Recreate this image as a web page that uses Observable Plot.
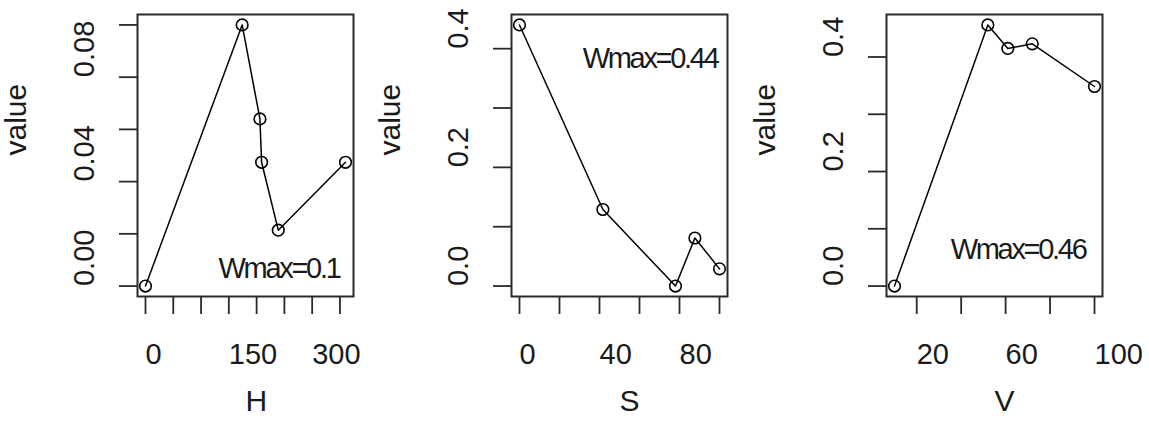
<!DOCTYPE html>
<html>
<head>
<meta charset="utf-8">
<script src="https://cdn.jsdelivr.net/npm/d3@7"></script>
<script src="https://cdn.jsdelivr.net/npm/@observablehq/plot@0.6"></script>
<style>
  html, body { margin: 0; padding: 0; background: #fff; }
  #charts { display: flex; flex-direction: row; width: 1149px; height: 430px; overflow: hidden; }
  #charts svg { display: block; overflow: visible; font-family: "Liberation Sans", Arial, sans-serif; }
  .wmax text { letter-spacing: -2.3px; }
</style>
</head>
<body>
<div id="charts"></div>
<script>
// ---- data ----
const hX = [0, 174, 206, 209, 239, 360];
const hY = [0, 0.1, 0.064, 0.0474, 0.0214, 0.0474];
const sX = [0, 41.7, 78, 87.7, 100];
const sY = [0.44, 0.129, 0, 0.081, 0.029];
const vX = [10, 52, 61, 72, 100];
const vY = [0, 0.456, 0.415, 0.423, 0.3485];

const hXTicks = [0, 50, 100, 150, 200, 250, 300, 350];
const hXLabels = [0, 150, 300];
const hYTicks = [0, 0.02, 0.04, 0.06, 0.08, 0.1];
const hYLabels = [0, 0.04, 0.08];

const sXTicks = [0, 20, 40, 60, 80, 100];
const sXLabels = [0, 40, 80];
const sYTicks = [0, 0.1, 0.2, 0.3, 0.4];
const sYLabels = [0, 0.2, 0.4];

const vXTicks = [20, 40, 60, 80, 100];
const vXLabels = [20, 60, 100];
const vYTicks = [0, 0.1, 0.2, 0.3, 0.4];
const vYLabels = [0, 0.2, 0.4];

const xTitles = ["H", "S", "V"];
const yTitle = "value";
const wmaxTexts = ["Wmax=0.1", "Wmax=0.44", "Wmax=0.46"];

// ---- drawing ----
const ink = "#1a1a1a";
function padDomain(vals) {
  const [a, b] = d3.extent(vals);
  const p = (b - a) * 0.04;
  return [a - p, b + p];
}

function panel({xs, ys, xTicks, xLabels, yTicks, yLabels, yFmt, xTitle, wmax, wAnchor, wdx, wdy, width, marginRight}) {
  const data = xs.map((x, i) => ({x, y: ys[i]}));
  return Plot.plot({
    width,
    height: 430,
    marginLeft: 137,
    marginRight,
    marginTop: 14,
    marginBottom: 134,
    x: {domain: padDomain(xs), label: null},
    y: {domain: padDomain(ys), label: null},
    style: {fontFamily: "Liberation Sans, Arial, sans-serif", background: "white"},
    marks: [
      Plot.frame({stroke: "#2a2a2a", strokeWidth: 2}),
      Plot.axisX({ticks: xTicks, tickSize: 18, fill: "none", stroke: "#2a2a2a", strokeWidth: 1.8, label: null}),
      Plot.axisX({ticks: xLabels, tickSize: 0, tickPadding: 47, textAnchor: "start", fontSize: 29, fill: ink, label: null, tickFormat: d => String(d)}),
      Plot.axisY({ticks: yTicks, tickSize: 18, fill: "none", stroke: "#2a2a2a", strokeWidth: 1.8, label: null}),
      Plot.text(yLabels, {y: d => d, text: d => yFmt(d), frameAnchor: "left", rotate: -90, textAnchor: "start", lineAnchor: "middle", dx: -53, fontSize: 29, fill: ink}),
      Plot.text([xTitle], {text: d => d, frameAnchor: "bottom", textAnchor: "start", lineAnchor: "bottom", dy: 114, fontSize: 30, fill: ink}),
      Plot.text([yTitle], {text: d => d, frameAnchor: "left", rotate: -90, textAnchor: "start", lineAnchor: "middle", dx: -121, fontSize: 30, fill: ink}),
      Plot.line(data, {x: "x", y: "y", stroke: "black", strokeWidth: 1.5}),
      Plot.dot(data, {x: "x", y: "y", r: 5.8, stroke: "black", strokeWidth: 1.6, fill: "none"}),
      Plot.text([wmax], {text: d => d, frameAnchor: wAnchor, textAnchor: "end", lineAnchor: "bottom", dx: wdx, dy: wdy, fontSize: 29, fill: ink, className: "wmax"})
    ]
  });
}

const root = document.getElementById("charts");
root.append(panel({xs: hX, ys: hY, xTicks: hXTicks, xLabels: hXLabels, yTicks: hYTicks, yLabels: hYLabels,
  yFmt: d3.format(".2f"), xTitle: xTitles[0], wmax: wmaxTexts[0], wAnchor: "bottom-right", wdx: -14, wdy: -19,
  width: 374, marginRight: 21}));
root.append(panel({xs: sX, ys: sY, xTicks: sXTicks, xLabels: sXLabels, yTicks: sYTicks, yLabels: sYLabels,
  yFmt: d3.format(".1f"), xTitle: xTitles[1], wmax: wmaxTexts[1], wAnchor: "top-right", wdx: -10, wdy: 53,
  width: 375, marginRight: 22}));
root.append(panel({xs: vX, ys: vY, xTicks: vXTicks, xLabels: vXLabels, yTicks: vYTicks, yLabels: vYLabels,
  yFmt: d3.format(".1f"), xTitle: xTitles[2], wmax: wmaxTexts[2], wAnchor: "bottom-right", wdx: -17, wdy: -38,
  width: 400, marginRight: 47}));
</script>
</body>
</html>
